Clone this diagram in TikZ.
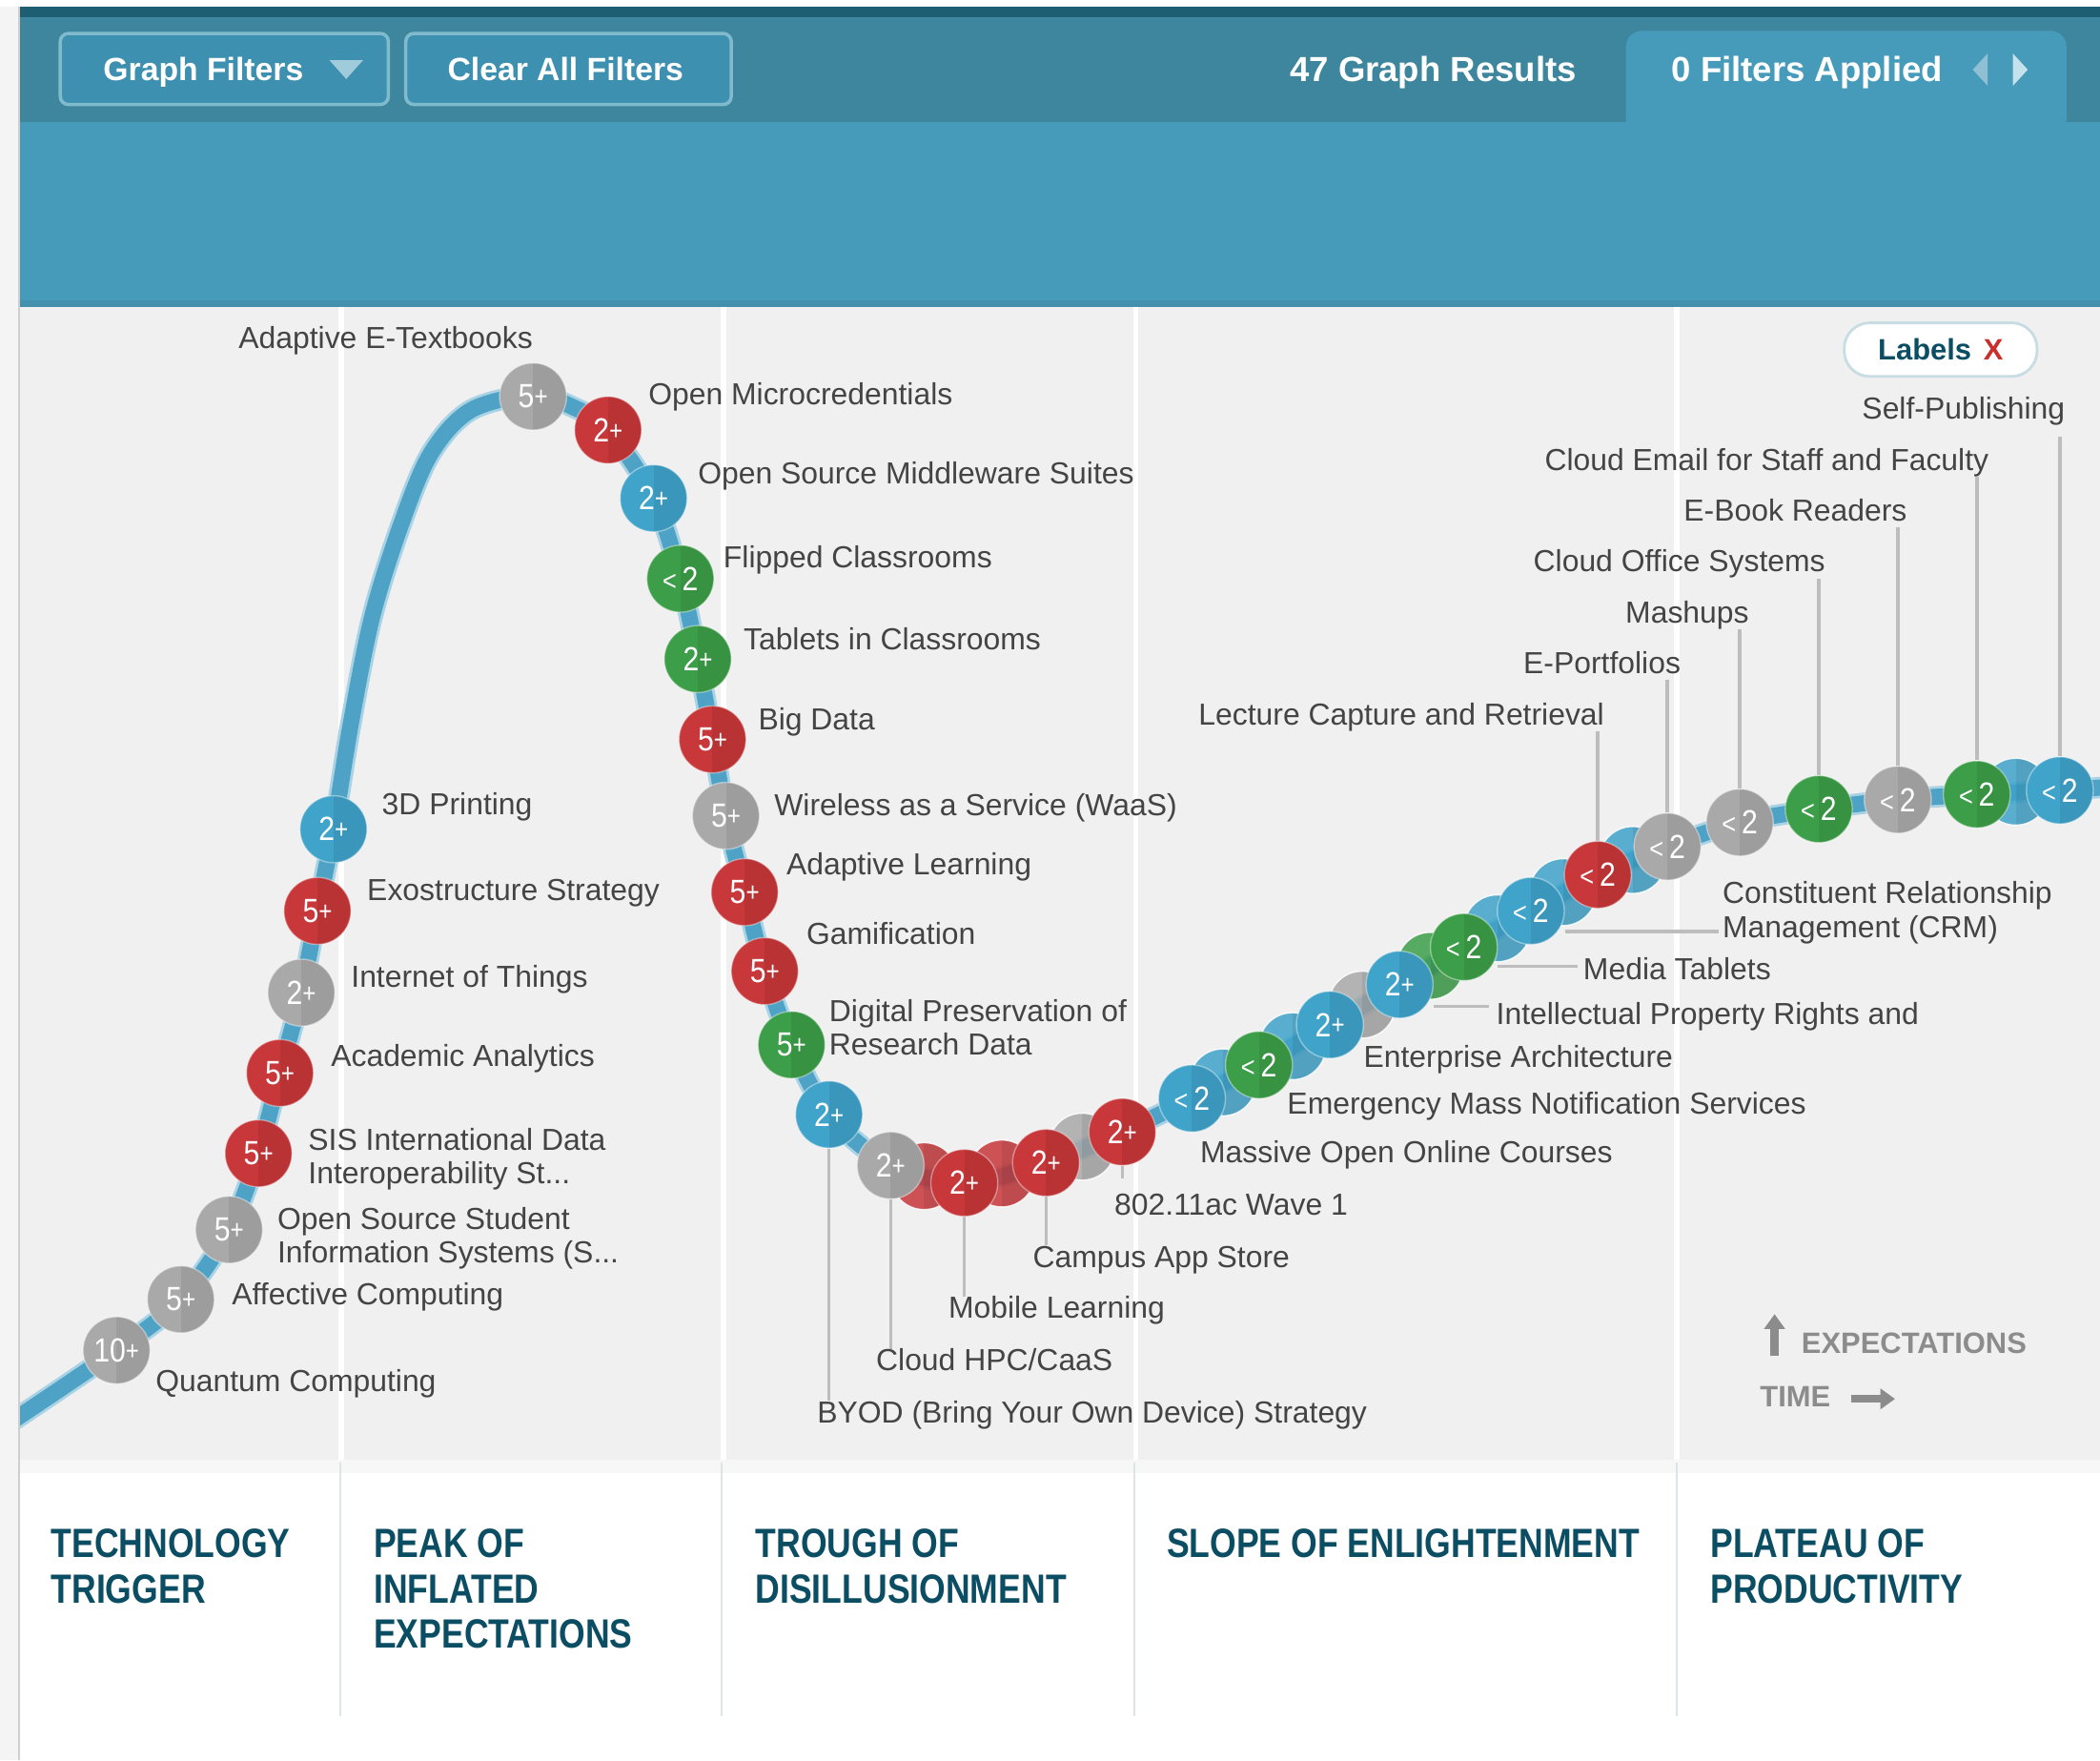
\documentclass[tikz,border=0pt]{standalone}
\usepackage{fontspec}
\setmainfont{Liberation Sans}
\newfontfamily\phasefont[FakeStretch=0.83]{Liberation Sans}
\newfontfamily\bubblefont[FakeStretch=0.86]{Liberation Sans}
\usetikzlibrary{arrows.meta}
\usetikzlibrary{positioning}

\definecolor{barDark}{HTML}{1E5E73}
\definecolor{barMid}{HTML}{3E869E}
\definecolor{barLight}{HTML}{479BBA}
\definecolor{barEdge}{HTML}{4391AF}
\definecolor{btnFill}{HTML}{3D90B0}
\definecolor{btnEdge}{HTML}{7FBACD}
\definecolor{arrowPale}{HTML}{9FCBDB}
\definecolor{tabArrowL}{HTML}{8FBFD2}
\definecolor{tabArrowR}{HTML}{C4E2EC}
\definecolor{chartBg}{HTML}{F0F0F0}
\definecolor{bandGray}{HTML}{F7F7F7}
\definecolor{colRule}{HTML}{DFE4E6}
\definecolor{leftStrip}{HTML}{F4F4F4}
\definecolor{frameGray}{HTML}{CFCFCF}
\definecolor{curveBlue}{HTML}{4EA2C6}
\definecolor{haloBlue}{HTML}{A9D3E5}
\definecolor{hcRed}{HTML}{C8373A}
\definecolor{hcBlue}{HTML}{3FA3CA}
\definecolor{hcGreen}{HTML}{3C9E48}
\definecolor{hcGray}{HTML}{A9A9A9}
\definecolor{labelGray}{HTML}{444444}
\definecolor{leaderGray}{HTML}{BDBDBD}
\definecolor{phaseTeal}{HTML}{0B4D63}
\definecolor{axisGray}{HTML}{8C8C8C}
\definecolor{pillEdge}{HTML}{C8DCE3}
\definecolor{closeRed}{HTML}{C9302C}

\newcommand{\yplus}{\raisebox{1.5pt}{\fontsize{20}{20}\selectfont+}}
\newcommand{\ylt}{{\fontsize{21}{21}\selectfont<}\,2}

\pgfdeclarelayer{back}
\pgfdeclarelayer{leaders}
\pgfsetlayers{back,leaders,main}

\begin{document}
\begin{tikzpicture}[x=1pt, y=-1pt,
    bubble/.style={circle, minimum size=50pt, inner sep=0pt, fill=#1,
      draw=white, draw opacity=0.4, line width=1pt, text=white,
      font=\bubblefont\fontsize{25}{25}\selectfont,
      path picture={\fill[black, opacity=0.07] (path picture bounding box.north)
        rectangle (path picture bounding box.south east);}},
    ghost/.style={bubble=#1, opacity=0.85},
    lbl/.style={anchor=base west, inner sep=0pt, text height=16pt, text depth=4.6pt,
      text=labelGray, font=\fontsize{22.7}{25}\selectfont},
    lblr/.style={lbl, anchor=base east},
    lbl2/.style={anchor=north west, inner sep=0pt, align=left,
      text=labelGray, font=\fontsize{22.7}{25}\selectfont},
    leader/.style={leaderGray, line width=2.5pt},
    phase/.style={anchor=north west, inner sep=0pt, align=left, text=phaseTeal,
      font=\phasefont\bfseries\fontsize{30.5}{34}\selectfont},
    btn/.style={draw=btnEdge, fill=btnFill, line width=2.5pt, rounded corners=6pt},
    bartext/.style={anchor=base west, inner sep=0pt, text=white,
      font=\bfseries\fontsize{24}{24}\selectfont},
    axis/.style={axisGray, line width=6pt, -{Triangle[width=15pt, length=11pt]}}]

\useasboundingbox (0,0) rectangle (1568,1314);

\begin{pgfonlayer}{back}
  \fill[white] (0,0) rectangle (1568,1314);
  \fill[leftStrip] (0,5) rectangle (14,1314);
  \draw[frameGray, line width=1.5pt] (14,5) -- (14,1314);

  % toolbar
  \fill[barDark] (15,5) rectangle (1568,13);
  \fill[barMid] (15,13) rectangle (1568,91);
  \fill[barLight] (15,91) rectangle (1568,229);
  \fill[barEdge] (15,224) rectangle (1568,229);
  \fill[barLight, rounded corners=12pt] (1214,100) rectangle (1543,23);
  \draw[btn] (45,25) rectangle (290,78);
  \draw[btn] (303,25) rectangle (546,78);
  \fill[arrowPale] (246,45) -- (271,45) -- (258.5,59) -- cycle;
  \fill[tabArrowL] (1484,40) -- (1484,64) -- (1473,52) -- cycle;
  \fill[tabArrowR] (1503,40) -- (1503,64) -- (1514,52) -- cycle;

  % chart and phase columns
  \fill[chartBg] (15,229) rectangle (1568,1090);
  \fill[bandGray] (15,1090) rectangle (1568,1100);
  \foreach \x in {255,540,848,1252}
    \draw[white, line width=4pt] (\x,229) -- (\x,1090);
  \foreach \x in {254,539,847,1252}
    \draw[colRule, line width=1.5pt] (\x,1092) -- (\x,1281);

  \begin{scope}
    \clip (15,229) rectangle (1568,1090);
    \draw[curveBlue, line width=12pt, preaction={draw=haloBlue, line width=16pt}]
      plot[smooth, tension=0.55] coordinates {
        (0,1067) (87,1008) (135,970) (171,918) (193,861) (209,801) (225,741)
        (237,680) (249,619) (262,540) (278,460) (300,390) (322,338) (352,306)
        (398,295) (428,304) (454,321) (488,372) (508,432) (521,492) (532,552)
        (542,609) (556,666) (571,725) (591,780) (619,832) (665,870) (720,883)
        (781,868) (838,845) (890,820) (940,795) (993,765) (1045,735) (1093,707)
        (1143,680) (1193,653) (1245,632) (1299,614) (1358,604) (1417,597)
        (1476,593) (1538,590) (1580,587)};
  \end{scope}
\end{pgfonlayer}

\node[bartext] (graphfilters) at (77,60) {Graph Filters};
\node[bartext] (clearall) at (334,60) {Clear All Filters};
\node[bartext, font=\bfseries\fontsize{26}{26}\selectfont] (results) at (963,61) {47 Graph Results};
\node[bartext, font=\bfseries\fontsize{26}{26}\selectfont] (applied) at (1248,61) {0 Filters Applied};

\node[draw=pillEdge, fill=white, line width=2pt, rounded corners=19pt, minimum width=144pt,
  minimum height=40pt, font=\bfseries\fontsize{22}{22}\selectfont] (labelsbtn) at (1449,261)
  {\textcolor{phaseTeal}{Labels}\hspace{9pt}\textcolor{closeRed}{X}};

% bubbles hidden behind the crowd
\node[ghost=hcRed] (h1) at (690,878) {};
\node[ghost=hcRed] (h2) at (748,876) {};
\node[ghost=hcGray] (h3) at (808,856) {};
\node[ghost=hcBlue] (h4) at (913,808) {};
\node[ghost=hcBlue] (h5) at (965,781) {};
\node[ghost=hcGray] (h6) at (1017,750) {};
\node[ghost=hcGreen] (h7) at (1068,721) {};
\node[ghost=hcBlue] (h8) at (1118,693) {};
\node[ghost=hcBlue] (h9) at (1167,666) {};
\node[ghost=hcBlue] (h10) at (1219,642) {};
\node[ghost=hcBlue] (h11) at (1505,591) {};

% technology trigger and peak
\node[bubble=hcGray] (quantum) at (87,1008) {10\yplus};
\node[bubble=hcGray] (affective) at (135,970) {5\yplus};
\node[bubble=hcGray] (ossis) at (171,918) {5\yplus};
\node[bubble=hcRed] (sis) at (193,861) {5\yplus};
\node[bubble=hcRed] (analytics) at (209,801) {5\yplus};
\node[bubble=hcGray] (iot) at (225,741) {2\yplus};
\node[bubble=hcRed] (exo) at (237,680) {5\yplus};
\node[bubble=hcBlue] (print) at (249,619) {2\yplus};
\node[bubble=hcGray] (etext) at (398,296) {5\yplus};
\node[bubble=hcRed] (micro) at (454,321) {2\yplus};
\node[bubble=hcBlue] (middle) at (488,372) {2\yplus};
\node[bubble=hcGreen] (flipped) at (508,432) {\ylt};
\node[bubble=hcGreen] (tablets) at (521,492) {2\yplus};
\node[bubble=hcRed] (bigdata) at (532,552) {5\yplus};
\node[bubble=hcGray] (waas) at (542,609) {5\yplus};
\node[bubble=hcRed] (adaptive) at (556,666) {5\yplus};
\node[bubble=hcRed] (gami) at (571,725) {5\yplus};
\node[bubble=hcGreen] (digi) at (591,780) {5\yplus};

% trough
\node[bubble=hcBlue] (byod) at (619,832) {2\yplus};
\node[bubble=hcGray] (hpc) at (665,870) {2\yplus};
\node[bubble=hcRed] (mobile) at (720,883) {2\yplus};
\node[bubble=hcRed] (store) at (781,868) {2\yplus};
\node[bubble=hcRed] (wave) at (838,845) {2\yplus};

% slope and plateau
\node[bubble=hcBlue] (mooc) at (890,820) {\ylt};
\node[bubble=hcGreen] (emerg) at (940,795) {\ylt};
\node[bubble=hcBlue] (ent) at (993,765) {2\yplus};
\node[bubble=hcBlue] (ip) at (1045,735) {2\yplus};
\node[bubble=hcGreen] (media) at (1093,707) {\ylt};
\node[bubble=hcBlue] (crm) at (1143,680) {\ylt};
\node[bubble=hcRed] (lecture) at (1193,653) {\ylt};
\node[bubble=hcGray] (eport) at (1245,632) {\ylt};
\node[bubble=hcGray] (mash) at (1299,614) {\ylt};
\node[bubble=hcGreen] (office) at (1358,604) {\ylt};
\node[bubble=hcGray] (ebook) at (1417,597) {\ylt};
\node[bubble=hcGreen] (email) at (1476,593) {\ylt};
\node[bubble=hcBlue] (selfpub) at (1538,590) {\ylt};

\node[lbl] (quantumL) at (116,1039) {Quantum Computing};
\node[lbl] (affectiveL) at (173,974) {Affective Computing};
\node[lbl2] (ossisL) at (207,901) {Open Source Student\\Information Systems (S...};
\node[lbl2] (sisL) at (230,842) {SIS International Data\\Interoperability St...};
\node[lbl] (analyticsL) at (247,796) {Academic Analytics};
\node[lbl] (iotL) at (262,737) {Internet of Things};
\node[lbl] (exoL) at (274,672) {Exostructure Strategy};
\node[lbl] (printL) at (285,608) {3D Printing};
\node[lbl] (etextL) at (178,260) {Adaptive E-Textbooks};
\node[lbl] (microL) at (484,302) {Open Microcredentials};
\node[lbl] (middleL) at (521,361) {Open Source Middleware Suites};
\node[lbl] (flippedL) at (540,424) {Flipped Classrooms};
\node[lbl] (tabletsL) at (555,485) {Tablets in Classrooms};
\node[lbl] (bigdataL) at (566,545) {Big Data};
\node[lbl] (waasL) at (578,609) {Wireless as a Service (WaaS)};
\node[lbl] (adaptiveL) at (587,653) {Adaptive Learning};
\node[lbl] (gamiL) at (602,705) {Gamification};
\node[lbl2] (digiL) at (619,746) {Digital Preservation of\\Research Data};

\node[lbl] (byodL) at (610,1062) {BYOD (Bring Your Own Device) Strategy};
\node[lbl] (hpcL) at (654,1023) {Cloud HPC/CaaS};
\node[lbl] (mobileL) at (708,984) {Mobile Learning};
\node[lbl] (storeL) at (771,946) {Campus App Store};
\node[lbl] (waveL) at (832,907) {802.11ac Wave 1};

\node[lbl] (moocL) at (896,868) {Massive Open Online Courses};
\node[lbl] (emergL) at (961,832) {Emergency Mass Notification Services};
\node[lbl] (entL) at (1018,797) {Enterprise Architecture};
\node[lbl] (ipL) at (1117,765) {Intellectual Property Rights and};
\node[lbl] (mediaL) at (1182,731) {Media Tablets};
\node[lbl2] (crmL) at (1286,658) {Constituent Relationship\\Management (CRM)};

\node[lblr] (lectureL) at (1198,541) {Lecture Capture and Retrieval};
\node[lblr] (eportL) at (1255,503) {E-Portfolios};
\node[lblr] (mashL) at (1306,465) {Mashups};
\node[lblr] (officeL) at (1363,427) {Cloud Office Systems};
\node[lblr] (ebookL) at (1424,389) {E-Book Readers};
\node[lblr] (emailL) at (1485,351) {Cloud Email for Staff and Faculty};
\node[lblr] (selfpubL) at (1542,313) {Self-Publishing};

\begin{pgfonlayer}{leaders}
  \draw[leader, shorten >=11pt]
    (byod) -- (byod |- byodL.north)
    (hpc) -- (hpc |- hpcL.north)
    (mobile) -- (mobile |- mobileL.north)
    (store) -- (store |- storeL.north)
    (wave) -- (wave |- waveL.north);
  \draw[leader, shorten >=8pt]
    (lecture) -- (lecture |- lectureL.south)
    (eport) -- (eport |- eportL.south)
    (mash) -- (mash |- mashL.south)
    (office) -- (office |- officeL.south)
    (ebook) -- (ebook |- ebookL.south)
    (email) -- (email |- emailL.south)
    (selfpub) -- (selfpub |- selfpubL.south);
  \draw[leader, transform canvas={yshift=8pt}] (ip.east |- ipL.west) -- ([xshift=-5pt]ipL.west);
  \draw[leader, transform canvas={yshift=4pt}] (media.east |- mediaL.west) -- ([xshift=-4pt]mediaL.west);
  \draw[leader, transform canvas={yshift=-14pt}] (crm.east |- crmL.west) -- ([xshift=-3pt]crmL.west);
\end{pgfonlayer}

\node[phase] (trigger) at (38,1141) {TECHNOLOGY\\TRIGGER};
\node[phase] (peak) at (279,1141) {PEAK OF\\INFLATED\\EXPECTATIONS};
\node[phase] (trough) at (564,1141) {TROUGH OF\\DISILLUSIONMENT};
\node[phase] (slope) at (871,1141) {SLOPE OF ENLIGHTENMENT};
\node[phase] (plateau) at (1277,1141) {PLATEAU OF\\PRODUCTIVITY};

\node[lbl, text=axisGray, font=\bfseries\fontsize{22}{22}\selectfont] (expectations) at (1345,1010) {EXPECTATIONS};
\node[lbl, text=axisGray, font=\bfseries\fontsize{22}{22}\selectfont] (time) at (1314,1050) {TIME};
\draw[axis] ([xshift=-20pt, yshift=-2pt]expectations.base west) -- ++(0,-31);
\draw[axis] ([xshift=15pt]time.east) -- ++(33,0);

\end{tikzpicture}
\end{document}
